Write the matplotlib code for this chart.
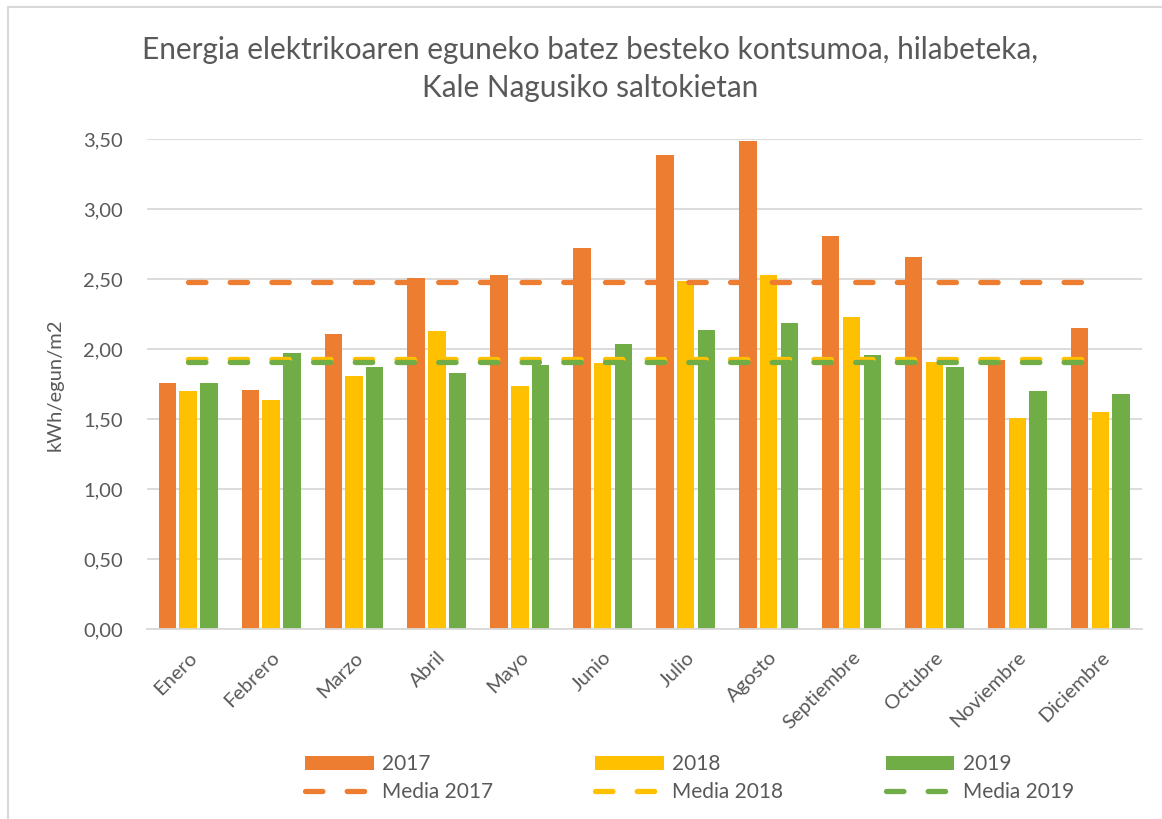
import matplotlib
matplotlib.use("Agg")
import matplotlib.pyplot as plt
import numpy as np
from matplotlib.patches import Rectangle

plt.rcParams['font.family'] = ['Lato', 'DejaVu Sans']

months = ['Enero', 'Febrero', 'Marzo', 'Abril', 'Mayo', 'Junio', 'Julio',
          'Agosto', 'Septiembre', 'Octubre', 'Noviembre', 'Diciembre']
v2017 = [1.76, 1.71, 2.11, 2.51, 2.53, 2.72, 3.39, 3.49, 2.81, 2.66, 1.92, 2.15]
v2018 = [1.70, 1.64, 1.81, 2.13, 1.74, 1.90, 2.49, 2.53, 2.23, 1.91, 1.51, 1.55]
v2019 = [1.76, 1.97, 1.87, 1.83, 1.89, 2.04, 2.14, 2.19, 1.96, 1.87, 1.70, 1.68]
media2017 = 2.48
media2018 = 1.93
media2019 = 1.91

c17 = '#ED7D31'
c18 = '#FFC000'
c19 = '#70AD47'
txt = '#595959'

fig = plt.figure(figsize=(11.62, 8.19), dpi=100)
fig.patches.append(Rectangle((8/1162, -0.1), 1.2, 1 - 7/819 + 0.1, transform=fig.transFigure,
                             fill=False, edgecolor='#d9d9d9', lw=1.5))

ax = fig.add_axes([146.7/1162, 1 - 629.3/819, 995/1162, 490/819])
x = np.arange(len(months))
w = 0.21
b17 = ax.bar(x - 0.25, v2017, w, color=c17, zorder=2)
b18 = ax.bar(x, v2018, w, color=c18, zorder=2)
b19 = ax.bar(x + 0.25, v2019, w, color=c19, zorder=2)

# lineas de la media, encima de las barras
lines = []
for val, col in [(media2017, c17), (media2018, c18), (media2019, c19)]:
    ln, = ax.plot(x, [val]*len(x), color=col, lw=3.8, dash_capstyle='round', zorder=3)
    ln.set_dashes((3.3, 4.6))
    lines.append(ln)

ax.set_xlim(-0.5, 11.5)
ax.set_ylim(0, 3.5)
ax.set_yticks(np.arange(0, 3.51, 0.5))
ax.set_yticklabels([f'{t:.2f}'.replace('.', ',') for t in np.arange(0, 3.51, 0.5)])
ax.grid(axis='y', color='#d9d9d9', lw=1.3, zorder=0)
for s in ['top', 'right', 'left']:
    ax.spines[s].set_visible(False)
ax.spines['bottom'].set_color('#d9d9d9')
ax.spines['bottom'].set_linewidth(1.3)
ax.tick_params(length=0, labelsize=14.5, colors=txt, pad=17)
ax.set_xticks(x)
ax.set_xticklabels(months, rotation=45, ha='right', va='top', rotation_mode='anchor')
ax.tick_params(axis='x', pad=14)
ax.set_ylabel('kWh/egun/m2', fontsize=14.5, color=txt, labelpad=14)

fig.text(0.508, 1 - 69/819, 'Energia elektrikoaren eguneko batez besteko kontsumoa, hilabeteka,\nKale Nagusiko saltokietan',
         ha='center', va='center', fontsize=21.4, color=txt, linespacing=1.45)

leg = fig.legend([b17, lines[0], b18, lines[1], b19, lines[2]],
                 ['2017', 'Media 2017', '2018', 'Media 2018', '2019', 'Media 2019'],
                 ncol=3, loc='center', bbox_to_anchor=(0.5933, 1 - 778/819), frameon=False,
                 fontsize=15, handlelength=3.3, handleheight=0.65, columnspacing=4.9,
                 handletextpad=0.4, labelcolor=txt, labelspacing=0.35)

fig.savefig('out.png', dpi=100)
